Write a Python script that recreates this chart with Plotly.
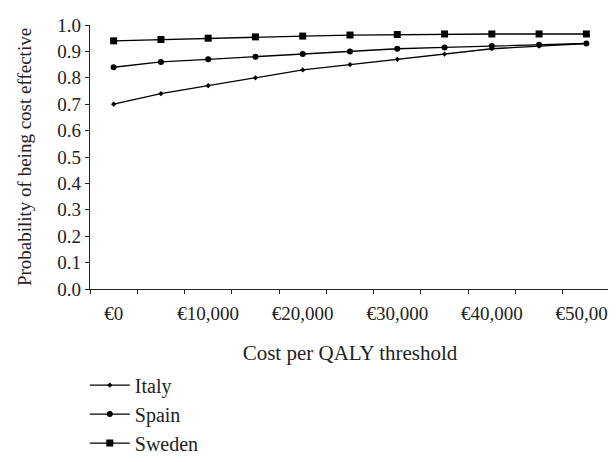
import plotly.graph_objects as go

thresholds = [0, 5000, 10000, 15000, 20000, 25000, 30000, 35000, 40000, 45000, 50000]
italy = [0.70, 0.74, 0.77, 0.80, 0.83, 0.85, 0.87, 0.89, 0.91, 0.92, 0.93]
spain = [0.84, 0.86, 0.87, 0.88, 0.89, 0.90, 0.91, 0.915, 0.92, 0.925, 0.93]
sweden = [0.94, 0.945, 0.95, 0.955, 0.958, 0.962, 0.964, 0.966, 0.966, 0.966, 0.966]

xtick_vals = [0, 10000, 20000, 30000, 40000, 50000]
xtick_text = ["€0", "€10,000", "€20,000", "€30,000", "€40,000", "€50,000"]
ytick_vals = [0.0, 0.1, 0.2, 0.3, 0.4, 0.5, 0.6, 0.7, 0.8, 0.9, 1.0]

FONT = "Liberation Serif"
FS = 19

fig = go.Figure()
series = [
    ("Italy", italy, "diamond", 4),
    ("Spain", spain, "circle", 6),
    ("Sweden", sweden, "square", 7),
]
for name, vals, sym, size in series:
    fig.add_trace(go.Scatter(
        x=thresholds, y=vals, name=name, legendgroup=name,
        mode="lines+markers",
        line=dict(color="black", width=1.3),
        marker=dict(symbol=sym, size=size, color="black"),
    ))

fig.update_layout(
    width=616, height=462,
    margin=dict(l=82, r=7, t=16, b=159),
    paper_bgcolor="white", plot_bgcolor="white",
    font=dict(family=FONT, size=FS, color="#222"),
    showlegend=True,
    legend=dict(
        x=-0.01, xanchor="left", y=-0.29, yanchor="top",
        traceorder="grouped", tracegroupgap=0,
        itemwidth=40,
        font=dict(family=FONT, size=20, color="#222"),
        bgcolor="rgba(0,0,0,0)",
    ),
    xaxis=dict(
        range=[-2500, 52500],
        tickvals=xtick_vals, ticktext=xtick_text,
        ticks="outside", ticklen=0,
        ticklabelstandoff=7,
        minor=dict(tick0=-2500, dtick=5000, ticks="outside", ticklen=4,
                   tickcolor="#222", tickwidth=1, showgrid=False),
        showline=True, linecolor="#222", linewidth=1.3,
        showgrid=False, zeroline=False,
        title=dict(text="Cost per QALY threshold", standoff=22,
                   font=dict(family=FONT, size=21)),
    ),
    yaxis=dict(
        range=[0, 1.0],
        tickvals=ytick_vals, tickformat=".1f",
        ticks="outside", ticklen=4, tickcolor="#222",
        showline=True, linecolor="#222", linewidth=1.3,
        showgrid=False, zeroline=False,
        title=dict(text="Probability of being cost effective", standoff=20,
                   font=dict(family=FONT, size=19)),
    ),
)

fig.write_html("out.html")
